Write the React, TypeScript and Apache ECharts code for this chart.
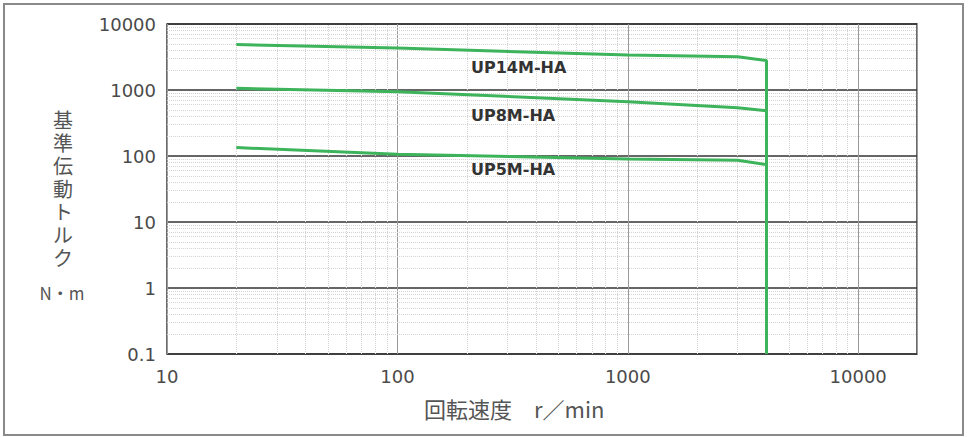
import React, { useEffect, useRef } from "react";
import * as echarts from "echarts";

// ---- data ----
const speeds14 = [20, 100, 1000, 3000, 4000, 4000];
const torque14 = [4890, 4320, 3380, 3200, 2790, 0.1];
const speeds8 = [20, 100, 1000, 3000, 4000];
const torque8 = [1060, 940, 665, 540, 485];
const speeds5 = [20, 100, 1000, 3000, 4000];
const torque5 = [134, 106, 90, 86, 74];
const seriesNames = ["UP14M-HA", "UP8M-HA", "UP5M-HA"];

const xMin = 10;
const xMax = 18000;
const yMin = 0.1;
const yMax = 10000;
const xDecades = [10, 100, 1000, 10000];
const yDecades = [0.1, 1, 10, 100, 1000];
const minorMultipliers = [2, 3, 4, 5, 6, 7, 8, 9];

const yTitleText = "基準伝動トルク";
const yUnitText = "N・m";
const xTitleText = "回転速度　r／min";

const GREEN = "#3db45b";

function zip(xs: number[], ys: number[]) {
  return xs.map((x, i) => [x, ys[i]]);
}

function isPow10(v: number) {
  const l = Math.log10(v);
  return Math.abs(l - Math.round(l)) < 1e-6;
}

export default function App() {
  const ref = useRef<HTMLDivElement>(null);

  useEffect(() => {
    if (!ref.current) return;
    const chart = echarts.init(ref.current, null, { renderer: "svg" });

    const minorX: number[] = [];
    xDecades.forEach((d) =>
      minorMultipliers.forEach((m) => {
        const v = d * m;
        if (v < xMax) minorX.push(v);
      })
    );
    const minorY: number[] = [];
    yDecades.forEach((d) =>
      minorMultipliers.forEach((m) => minorY.push(d * m))
    );

    const lineSeries = (name: string, data: number[][]) => ({
      name,
      type: "line",
      data,
      symbol: "none",
      z: 4,
      lineStyle: { color: GREEN, width: 3 },
      itemStyle: { color: GREEN },
    });

    const curveLabel = (text: string, y: number) => ({
      type: "text",
      x: 471,
      y,
      style: {
        text,
        fontSize: 16,
        fontWeight: "bold",
        fontFamily: "DejaVu Sans",
        fill: "#333333",
        verticalAlign: "middle",
        align: "left",
      },
      z: 10,
    });

    const yTitleChars = yTitleText.split("").map((ch, i) => ({
      type: "text",
      x: 63,
      y: 121 + i * 23,
      style: {
        text: ch,
        fontSize: 20,
        lineHeight: 20,
        fontFamily: "'Liberation Sans', 'Noto Sans CJK JP', sans-serif",
        fill: "#555555",
        align: "center",
        verticalAlign: "middle",
      },
    }));

    chart.setOption({
      animation: false,
      backgroundColor: "#ffffff",
      grid: {
        left: 167,
        right: 55,
        top: 24,
        bottom: 83,
        show: true,
        borderColor: "#3a3a3a",
        borderWidth: 1.5,
        backgroundColor: "transparent",
      },
      xAxis: {
        type: "log",
        logBase: 10,
        min: xMin,
        max: xMax,
        axisLine: { show: false },
        axisTick: { show: false },
        axisLabel: {
          color: "#4a4a4a",
          fontSize: 18,
          fontFamily: "DejaVu Sans",
          margin: 13,
          showMaxLabel: false,
          formatter: (v: number) => (isPow10(v) ? String(Math.round(v)) : ""),
        },
        splitLine: { show: true, lineStyle: { color: "#9a9a9a", width: 1 } },
      },
      yAxis: {
        type: "log",
        logBase: 10,
        min: yMin,
        max: yMax,
        axisLine: { show: false },
        axisTick: { show: false },
        axisLabel: {
          color: "#4a4a4a",
          fontSize: 18,
          fontFamily: "DejaVu Sans",
          margin: 11,
          formatter: (v: number) => {
            if (!isPow10(v)) return "";
            return v < 1 ? String(Number(v.toFixed(1))) : String(Math.round(v));
          },
        },
        splitLine: { show: true, lineStyle: { color: "#333333", width: 1.5 } },
      },
      series: [
        {
          name: "minor-grid",
          type: "line",
          data: [],
          z: 1,
          silent: true,
          markLine: {
            z: 1,
            silent: true,
            symbol: "none",
            label: { show: false },
            lineStyle: { color: "#d4d4d4", type: "dotted", width: 1 },
            data: [
              ...minorX.map((v) => ({ xAxis: v })),
              ...minorY.map((v) => ({ yAxis: v })),
            ],
          },
        },
        lineSeries(seriesNames[0], zip(speeds14, torque14)),
        lineSeries(seriesNames[1], zip(speeds8, torque8)),
        lineSeries(seriesNames[2], zip(speeds5, torque5)),
      ],
      graphic: [
        {
          type: "rect",
          shape: { x: 4, y: 4, width: 959, height: 431 },
          style: { fill: "none", stroke: "#8a8a8a", lineWidth: 2 },
          z: 0,
        },
        curveLabel(seriesNames[0], 67),
        curveLabel(seriesNames[1], 115),
        curveLabel(seriesNames[2], 169),
        ...yTitleChars,
        {
          type: "text",
          x: 62,
          y: 292,
          style: {
            text: yUnitText,
            fontSize: 17,
            fontFamily: "Noto Sans CJK JP",
            fill: "#555555",
            align: "center",
            verticalAlign: "middle",
          },
        },
        {
          type: "text",
          x: 424,
          y: 408,
          style: {
            text: xTitleText,
            fontSize: 22,
            fontFamily: "Noto Sans CJK JP",
            fill: "#555555",
            align: "left",
            verticalAlign: "middle",
          },
        },
      ],
    });

    return () => chart.dispose();
  }, []);

  return (
    <div
      ref={ref}
      style={{
        position: "fixed",
        left: 0,
        top: 0,
        width: 972,
        height: 437,
        background: "#ffffff",
      }}
    />
  );
}
